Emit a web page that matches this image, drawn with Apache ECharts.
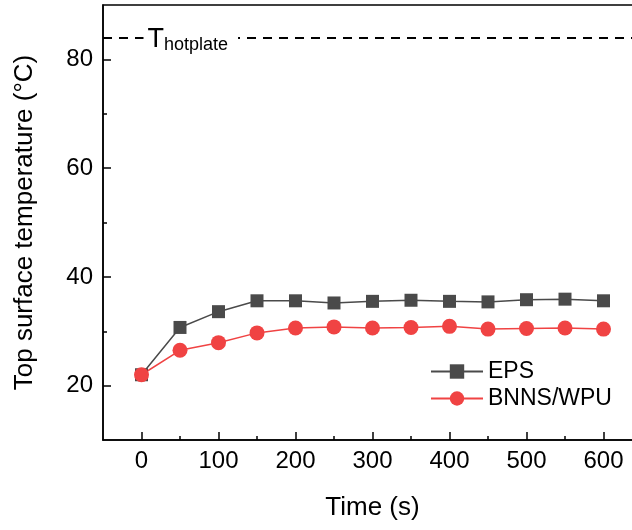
<!DOCTYPE html>
<html>
<head>
<meta charset="utf-8">
<script src="https://cdn.jsdelivr.net/npm/echarts@6/dist/echarts.min.js"></script>
<style>html,body{margin:0;padding:0;background:#fff}#c{width:632px;height:530px}</style>
</head>
<body>
<div id="c"></div>
<script>
var timeS = [0, 50, 100, 150, 200, 250, 300, 350, 400, 450, 500, 550, 600];
var epsTemp = [22.0, 30.7, 33.6, 35.6, 35.6, 35.2, 35.5, 35.7, 35.5, 35.4, 35.8, 35.9, 35.6];
var bnnsTemp = [22.0, 26.5, 27.9, 29.7, 30.6, 30.8, 30.6, 30.7, 30.9, 30.4, 30.5, 30.6, 30.4];
var xMajorTicks = [0, 100, 200, 300, 400, 500, 600];
var xMinorTicks = [50, 150, 250, 350, 450, 550];
var yMajorTicks = [20, 40, 60, 80];
var yMinorTicks = [30, 50, 70];
var hotplateTemp = 84;
var hotplateLabelX = 0;

var FONT = 'Liberation Sans, Arial, sans-serif';
function pairs(xs, ys) { return xs.map(function (x, i) { return [x, ys[i]]; }); }

var chart = echarts.init(document.getElementById('c'), null, { renderer: 'canvas' });
var axisLine = { show: true, onZero: false, lineStyle: { color: '#000', width: 1.5 } };
var noLine = { show: false, onZero: false };
chart.setOption({
  animation: false,
  backgroundColor: '#fff',
  grid: { left: 103, top: 5, width: 539, height: 435, show: true, borderColor: '#000', borderWidth: 1.5, containLabel: false, outerBoundsMode: 'none' },
  xAxis: [
    {
      type: 'value', position: 'bottom', min: -50, max: 650, interval: 50,
      name: 'Time (s)', nameLocation: 'middle', nameGap: 55,
      nameTextStyle: { fontFamily: FONT, fontSize: 26, color: '#000' },
      axisLine: axisLine,
      axisTick: { show: true, inside: true, length: 8, customValues: xMajorTicks, lineStyle: { color: '#000', width: 1.5 } },
      axisLabel: { customValues: xMajorTicks, fontFamily: FONT, fontSize: 24, color: '#000', margin: 9 },
      splitLine: { show: false }
    },
    {
      type: 'value', position: 'bottom', min: -50, max: 650, interval: 50,
      axisLine: noLine,
      axisTick: { show: true, inside: true, length: 4, customValues: xMinorTicks, lineStyle: { color: '#000', width: 1.5 } },
      axisLabel: { show: false },
      splitLine: { show: false }
    }
  ],
  yAxis: [
    {
      type: 'value', position: 'left', min: 10, max: 90, interval: 10,
      name: 'Top surface temperature (°C)', nameLocation: 'middle', nameGap: 65,
      nameTextStyle: { fontFamily: FONT, fontSize: 26, color: '#000' },
      axisLine: axisLine,
      axisTick: { show: true, inside: true, length: 8, customValues: yMajorTicks, lineStyle: { color: '#000', width: 1.5 } },
      axisLabel: { customValues: yMajorTicks, fontFamily: FONT, fontSize: 24, color: '#000', margin: 10 },
      splitLine: { show: false }
    },
    {
      type: 'value', position: 'left', min: 10, max: 90, interval: 10,
      axisLine: noLine,
      axisTick: { show: true, inside: true, length: 4, customValues: yMinorTicks, lineStyle: { color: '#000', width: 1.5 } },
      axisLabel: { show: false },
      splitLine: { show: false }
    }
  ],
  legend: {
    orient: 'vertical', left: 430, top: 360, padding: 0,
    itemWidth: 52, itemHeight: 18, itemGap: 4,
    textStyle: { fontFamily: FONT, fontSize: 23, color: '#000' },
    data: ['EPS', 'BNNS/WPU']
  },
  series: [
    {
      name: 'EPS', type: 'line', xAxisIndex: 0, yAxisIndex: 0,
      data: pairs(timeS, epsTemp),
      symbol: 'rect', symbolSize: 13,
      itemStyle: { color: '#4a4a4a' },
      lineStyle: { color: '#4a4a4a', width: 1.5 },
      markLine: {
        silent: true, symbol: ['none', 'none'],
        lineStyle: { color: '#000', width: 1.8, type: [9, 7] },
        label: { show: false },
        data: [{ yAxis: hotplateTemp }]
      },
      markPoint: {
        silent: true, symbol: 'circle', symbolSize: 0,
        data: [{ coord: [hotplateLabelX, hotplateTemp] }],
        label: {
          show: true, position: 'right', distance: 2, offset: [0, 2],
          backgroundColor: '#fff', padding: [0, 10, 0, 4],
          formatter: '{t|T}{s|hotplate}',
          rich: {
            t: { fontFamily: FONT, fontSize: 27, color: '#000', lineHeight: 28, verticalAlign: 'top' },
            s: { fontFamily: FONT, fontSize: 18, color: '#000', lineHeight: 18, verticalAlign: 'bottom', padding: [14, 0, 0, 0] }
          }
        }
      }
    },
    {
      name: 'BNNS/WPU', type: 'line', xAxisIndex: 0, yAxisIndex: 0,
      data: pairs(timeS, bnnsTemp),
      symbol: 'circle', symbolSize: 15,
      itemStyle: { color: '#f04343' },
      lineStyle: { color: '#f04343', width: 1.5 }
    }
  ]
});
</script>
</body>
</html>
